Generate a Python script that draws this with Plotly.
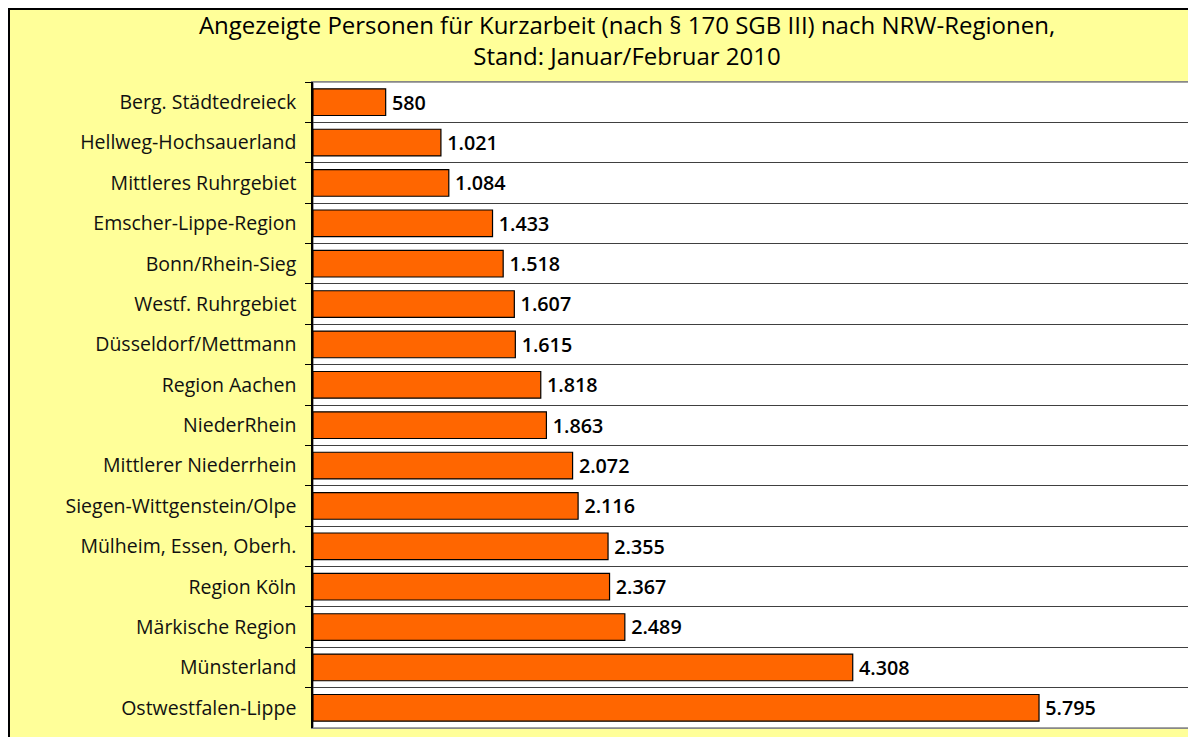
import plotly.graph_objects as go

regions = [
    "Berg. Städtedreieck",
    "Hellweg-Hochsauerland",
    "Mittleres Ruhrgebiet",
    "Emscher-Lippe-Region",
    "Bonn/Rhein-Sieg",
    "Westf. Ruhrgebiet",
    "Düsseldorf/Mettmann",
    "Region Aachen",
    "NiederRhein",
    "Mittlerer Niederrhein",
    "Siegen-Wittgenstein/Olpe",
    "Mülheim, Essen, Oberh.",
    "Region Köln",
    "Märkische Region",
    "Münsterland",
    "Ostwestfalen-Lippe",
]
persons = [580, 1021, 1084, 1433, 1518, 1607, 1615, 1818, 1863, 2072, 2116, 2355, 2367, 2489, 4308, 5795]

# page has an 8px body margin, so figure origin sits at (8, 8) of the window
W, H = 1188, 729
ML, MR, MT, MB = 305, 6, 74, 9
FONT = "Open Sans"

fig = go.Figure(go.Bar(
    x=persons,
    y=regions,
    orientation="h",
    marker=dict(color="#FF6600", line=dict(color="#000000", width=1.2)),
    width=0.66,
    texttemplate="\u2009%{x:,}",
    textposition="outside",
    cliponaxis=False,
    textfont=dict(family=FONT, size=20, color="#000000", weight=600),
    hoverinfo="skip",
))

pw = W - ML - MR
ph = H - MT - MB

fig.update_layout(
    width=W, height=H,
    autosize=False,
    margin=dict(l=ML, r=MR, t=MT, b=MB),
    paper_bgcolor="#FFFF99",
    plot_bgcolor="#FFFFFF",
    separators=",.",
    showlegend=False,
    font=dict(family=FONT, color="#000000"),
    title=dict(
        text="Angezeigte Personen für Kurzarbeit (nach § 170 SGB III) nach NRW-Regionen,<br>Stand: Januar/Februar 2010",
        x=(627 - 8) / W, xanchor="center", xref="container",
        y=1 - 25.5 / H, yanchor="middle", yref="container",
        font=dict(family=FONT, size=24, color="#000000", weight=500),
    ),
    xaxis=dict(
        range=[0, 7000],
        showticklabels=False,
        showgrid=False,
        zeroline=False,
        ticks="",
        showline=True, mirror=True, linecolor="#888888", linewidth=1.2,
        fixedrange=True,
    ),
    yaxis=dict(
        type="category",
        autorange="reversed",
        tickson="boundaries",
        ticks="outside", ticklen=6, tickcolor="#000000", tickwidth=1,
        showgrid=True, gridcolor="#404040", gridwidth=1.2,
        showline=True, linecolor="#000000", linewidth=1.5,
        tickfont=dict(family=FONT, size=19.5, color="#111111"),
        ticklabelstandoff=11,
        fixedrange=True,
    ),
    shapes=[
        dict(
            type="rect", xref="x domain", yref="y domain",
            x0=0, x1=1, y0=0, y1=1,
            line=dict(color="#888888", width=1.5), layer="below",
        ),
        dict(
            type="rect", xref="paper", yref="paper",
            x0=(1 - ML) / pw, x1=(W + 20 - ML) / pw,
            y0=-(MB + 20) / ph, y1=1 + (MT - 1) / ph,
            line=dict(color="#000000", width=2), layer="above",
        ),
    ],
)

fig.write_html("out.html")
